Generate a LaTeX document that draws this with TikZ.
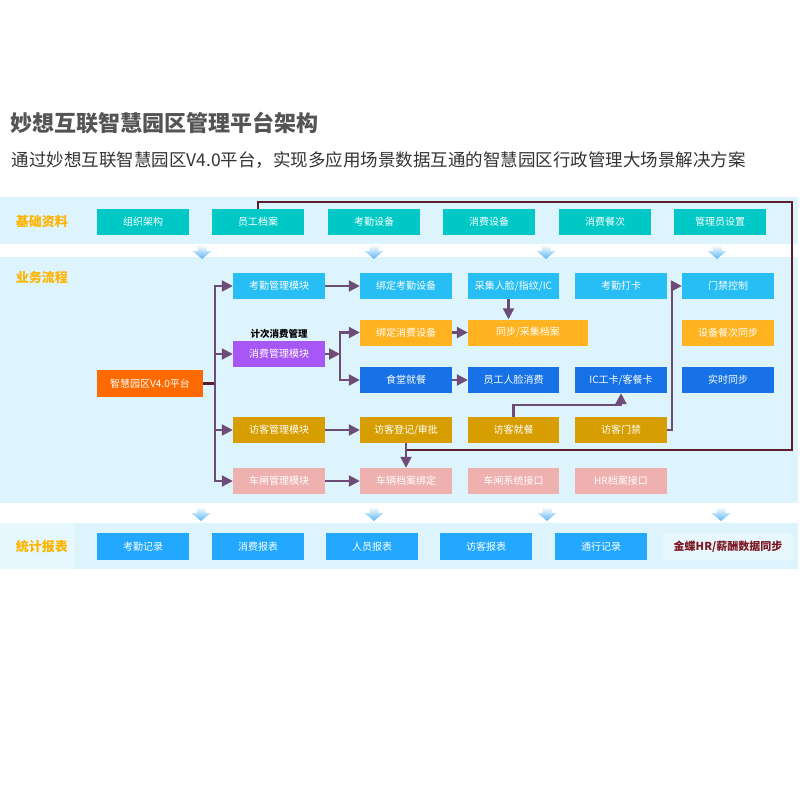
\documentclass[tikz,border=0pt]{standalone}
\usepackage{fontspec}
\setmainfont{Noto Sans CJK SC}
\usetikzlibrary{arrows.meta}
\definecolor{bandbg}{HTML}{DDF4FC}
\definecolor{cellbg}{HTML}{E6F8FD}
\definecolor{teal}{HTML}{00C8C6}
\definecolor{sky}{HTML}{26BEF4}
\definecolor{amber}{HTML}{FFB320}
\definecolor{violet}{HTML}{A757F5}
\definecolor{deepblue}{HTML}{1672E6}
\definecolor{gold}{HTML}{D69E00}
\definecolor{rose}{HTML}{EFB0B0}
\definecolor{platform}{HTML}{FF6A00}
\definecolor{report}{HTML}{22A9FF}
\definecolor{tagcol}{HTML}{FFB400}
\definecolor{flowcol}{HTML}{6D4C78}
\definecolor{feedcol}{HTML}{5A1E2C}
\definecolor{chevcol}{HTML}{5BB6F4}
\begin{document}
\begin{tikzpicture}[x=1pt, y=-1pt]
	\tikzstyle{block} = [rectangle, inner sep=0pt, minimum width=92pt, minimum height=26pt, text=white, font=\fontsize{10}{12}\selectfont]
	\tikzstyle{tag} = [font=\bfseries\fontsize{13}{15}\selectfont, text=tagcol]
	\tikzstyle{flow} = [draw=flowcol, line width=2.2pt, -{Triangle[length=11pt,width=11pt]}]
	\tikzstyle{feed} = [draw=feedcol, line width=2.2pt]
	\useasboundingbox (0,0) rectangle (800,800);
	% title
	\node[anchor=west, text=black!67, font=\bfseries\fontsize{22}{26}\selectfont](title)at (7,123){妙想互联智慧园区管理平台架构};
	\node[anchor=west, text=black!80, font=\fontsize{17.5}{20}\selectfont](subtitle)at (8,160){通过妙想互联智慧园区V4.0平台，实现多应用场景数据互通的智慧园区行政管理大场景解决方案};
	% bands
	\fill[bandbg] (0,197) rectangle (798,244);
	\fill[bandbg] (0,257) rectangle (798,503);
	\fill[bandbg] (0,523) rectangle (798,569);
	\fill[cellbg] (0,523) rectangle (75,569);
	\foreach \x/\y in {202/245, 374/245, 546/245, 717/245, 201/507, 374/507, 547/507, 721/507}
		\shade[top color=white, bottom color=chevcol] ({\x-4.5},\y) -- ({\x+4.5},\y) -- ({\x+4.5},\y+6) -- ({\x+9.5},\y+6) -- (\x,\y+14) -- ({\x-9.5},\y+6) -- ({\x-4.5},\y+6) -- cycle;
	% base data
	\node[tag](tag-base)at (42,222){基础资料};
	\node[block,fill=teal](org)at (143,222){组织架构};
	\node[block,fill=teal](staff)at (258,222){员工档案};
	\node[block,fill=teal](att-dev)at (374,222){考勤设备};
	\node[block,fill=teal](pay-dev)at (489,222){消费设备};
	\node[block,fill=teal](meal)at (605,222){消费餐次};
	\node[block,fill=teal](admin)at (720,222){管理员设置};
	% business flow
	\node[tag](tag-flow)at (42,278){业务流程};
	\node[block,fill=platform,minimum width=106pt,minimum height=27pt](platform)at (150,383.5){智慧园区V4.0平台};
	\node[block,fill=sky](att-mod)at (279,286){考勤管理模块};
	\node[block,fill=sky](att-bind)at (406,286){绑定考勤设备};
	\node[block,fill=sky,minimum width=91pt](collect)at (513.5,286){采集人脸/指纹/IC};
	\node[block,fill=sky](clock)at (621,286){考勤打卡};
	\node[block,fill=sky](door)at (728,286){门禁控制};
	\node[font=\bfseries\fontsize{9.5}{11}\selectfont](pay-note)at (279,334){计次消费管理};
	\node[block,fill=violet](pay-mod)at (279,354){消费管理模块};
	\node[block,fill=amber](pay-bind)at (406,332.5){绑定消费设备};
	\node[block,fill=amber,minimum width=120pt](sync)at (528,332.5){同步/采集档案};
	\node[block,fill=amber](meal-sync)at (728,332.5){设备餐次同步};
	\node[block,fill=deepblue](canteen)at (406,380){食堂就餐};
	\node[block,fill=deepblue,minimum width=91pt](face-pay)at (513.5,380){员工人脸消费};
	\node[block,fill=deepblue](card)at (621,380){IC工卡/客餐卡};
	\node[block,fill=deepblue](realtime)at (728,380){实时同步};
	\node[block,fill=gold](vis-mod)at (279,430){访客管理模块};
	\node[block,fill=gold](vis-reg)at (406,430){访客登记/审批};
	\node[block,fill=gold,minimum width=91pt](vis-meal)at (513.5,430){访客就餐};
	\node[block,fill=gold](vis-door)at (621,430){访客门禁};
	\node[block,fill=rose](car-mod)at (279,481){车闸管理模块};
	\node[block,fill=rose](car-bind)at (406,481){车辆档案绑定};
	\node[block,fill=rose,minimum width=91pt](car-api)at (513.5,481){车闸系统接口};
	\node[block,fill=rose](hr-api)at (621,481){HR档案接口};
	% reports
	\node[tag](tag-report)at (42,547){统计报表};
	\node[block,fill=report,minimum height=27pt](att-rec)at (143,546.5){考勤记录};
	\node[block,fill=report,minimum height=27pt](pay-rep)at (258,546.5){消费报表};
	\node[block,fill=report,minimum height=27pt](staff-rep)at (372,546.5){人员报表};
	\node[block,fill=report,minimum height=27pt](vis-rep)at (486,546.5){访客报表};
	\node[block,fill=report,minimum height=27pt](pass-rec)at (601,546.5){通行记录};
	\node[block,fill=cellbg,minimum width=130pt,minimum height=27pt,text=feedcol!80!red,font=\bfseries\fontsize{11}{13}\selectfont](hr-sync)at (728,546.5){金蝶HR/薪酬数据同步};
	% connectors
	\coordinate (trunk) at (215,383.5);
	\coordinate (pay-split) at (340,354);
	\coordinate (loop-ne) at (792,202);
	\coordinate (loop-se) at (792,450);
	\draw[feed] (staff.north) |- (loop-ne) -- (loop-se) -- (loop-se -| car-bind.north);
	\draw[feed] (platform.east) -- (trunk);
	\draw[flow] (trunk) |- (att-mod.west);
	\draw[flow] (trunk) |- (pay-mod.west);
	\draw[flow] (trunk) |- (vis-mod.west);
	\draw[flow] (trunk) |- (car-mod.west);
	\draw[flow] (pay-mod.east) -- (pay-split);
	\draw[flow] (pay-split) |- (pay-bind.west);
	\draw[flow] (pay-split) |- (canteen.west);
	\draw[flow] ([xshift=-5pt]collect.south) -- ([xshift=-5pt]collect.south |- sync.north);
	\draw[flow] (att-mod.east) -- (att-bind.west);
	\draw[flow] (pay-bind.east) -- (sync.west);
	\draw[flow] (canteen.east) -- (face-pay.west);
	\draw[flow] (vis-mod.east) -- (vis-reg.west);
	\draw[flow] (vis-reg.south) -- (car-bind.north);
	\draw[flow] (car-mod.east) -- (car-bind.west);
	\draw[flow] (vis-meal.north) -- ++(0,-12) -| (card.south);
	\draw[flow] (vis-door.east) -- ++(5,0) |- (door.west);
\end{tikzpicture}
\end{document}
